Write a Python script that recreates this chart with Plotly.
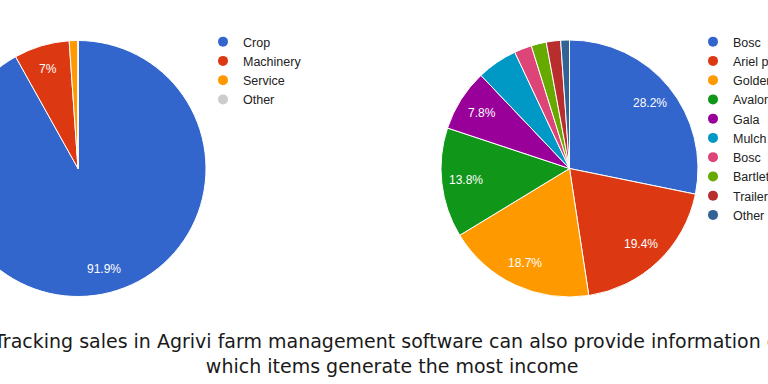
import math
import plotly.graph_objects as go

# ---------------- data ----------------
left_labels = ["Crop", "Machinery", "Service", "Other"]
left_values = [91.9, 7.0, 1.1, 0.0]
left_colors = ["#3366cc", "#dc3912", "#ff9900", "#cccccc"]

right_labels = ["Bosc", "Ariel pears", "Golden Delicious", "Avalon Pride", "Gala",
                "Mulch", "Bosc", "Bartlett", "Trailer", "Other"]
right_values = [28.2, 19.4, 18.7, 13.8, 7.8, 5.1, 2.2, 1.9, 1.8, 1.1]
right_colors = ["#3366cc", "#dc3912", "#ff9900", "#109618", "#990099",
                "#0099c6", "#dd4477", "#66aa00", "#b82e2e", "#316395"]

caption = ("Tracking sales in Agrivi farm management software can also provide information on"
           "<br>which items generate the most income")

# ---------------- layout helpers ----------------
SHIFT_L = 60          # part of the figure hidden left of the window
W, H = 768 + SHIFT_L + 80, 384


def px(xpage):
    return (xpage + SHIFT_L) / W


def py(ypage):
    return 1 - ypage / H


LEFT_BOX = (-50, 40, 206, 297)    # page pixels: x0, y0, x1, y1
RIGHT_BOX = (441, 40, 698, 297)

fig = go.Figure()
annotations = []
label_font = dict(family="Liberation Sans, Arial", size=12, color="white")


def add_pie(labels, values, colors, box, thr=7.0):
    x0, y0, x1, y1 = box
    fig.add_trace(go.Pie(
        labels=[f"{l} {i}" for i, l in enumerate(labels)], values=values,
        sort=False, direction="clockwise",
        marker=dict(colors=colors, line=dict(color="white", width=1)),
        textinfo="none",
        domain=dict(x=[px(x0), px(x1)], y=[py(y1), py(y0)]),
        showlegend=False, hoverinfo="percent",
    ))
    cx, cy = (x0 + x1) / 2, (y0 + y1) / 2
    r = (x1 - x0) / 2 * 0.81
    total = sum(values)
    cum = 0.0
    for v in values:
        mid = (cum + v / 2) / total * 2 * math.pi
        cum += v
        if v < thr:
            continue
        annotations.append(dict(
            text=f"{v:g}%", x=px(cx + r * math.sin(mid)), y=py(cy - r * math.cos(mid)),
            xref="paper", yref="paper", xanchor="center", yanchor="middle",
            showarrow=False, font=label_font))


add_pie(left_labels, left_values, left_colors, LEFT_BOX)
add_pie(right_labels, right_values, right_colors, RIGHT_BOX)

for lab, col in zip(left_labels, left_colors):
    fig.add_trace(go.Scatter(x=[None], y=[None], mode="markers", name=lab,
                             marker=dict(color=col, size=10), legend="legend",
                             hoverinfo="skip"))
for lab, col in zip(right_labels, right_colors):
    fig.add_trace(go.Scatter(x=[None], y=[None], mode="markers", name=lab,
                             marker=dict(color=col, size=10), legend="legend2",
                             hoverinfo="skip"))

annotations.append(dict(text=caption, x=px(391), y=py(353), xref="paper", yref="paper",
                        xanchor="center", yanchor="middle", showarrow=False, align="center",
                        font=dict(family="DejaVu Sans", size=19, color="#1a1a1a")))

legend_font = dict(family="Liberation Sans, Arial", size=12.5, color="#222222")
fig.update_layout(
    width=W, height=H, margin=dict(l=0, r=0, t=0, b=0),
    paper_bgcolor="white", plot_bgcolor="white",
    xaxis=dict(visible=False), yaxis=dict(visible=False),
    legend=dict(x=px(203), y=py(27), xanchor="left", yanchor="top",
                font=legend_font, bgcolor="rgba(0,0,0,0)", itemclick=False),
    legend2=dict(x=px(693), y=py(27), xanchor="left", yanchor="top",
                 font=legend_font, bgcolor="rgba(0,0,0,0)", itemclick=False),
    annotations=annotations,
)

post = ("var gd=document.getElementById('{plot_id}');"
        "document.body.style.margin='0';document.body.style.overflow='hidden';"
        "gd.style.marginLeft='-" + str(SHIFT_L) + "px';")
fig.write_html("out.html", post_script=post, config={"displayModeBar": False})
